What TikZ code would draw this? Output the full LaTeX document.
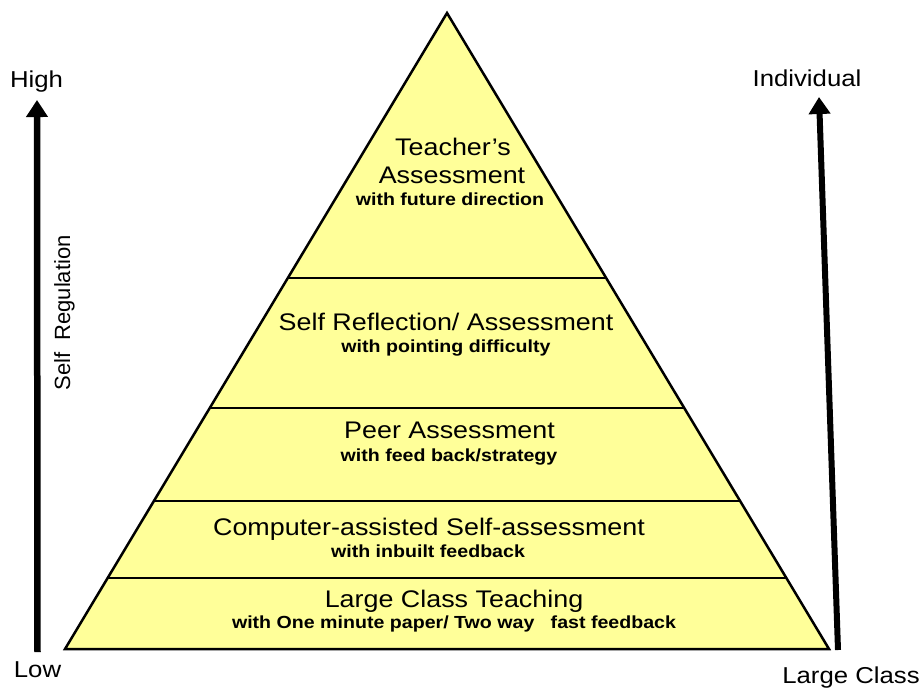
\documentclass[tikz,border=0pt]{standalone}
\usepackage{fontspec}
\setmainfont{Liberation Sans}[FakeStretch=1.12]
\newfontfamily\uprightfont{Liberation Sans}
\usepackage{xcolor}
\usetikzlibrary{arrows.meta,calc}
\definecolor{pyrfill}{RGB}{255,255,153}

\begin{document}
\begin{tikzpicture}[x=1pt,y=-1pt,
  pyramid/.style={draw=black,line width=2.5pt,fill=pyrfill,line join=miter},
  divider/.style={draw=black,line width=2.5pt},
  title/.style={font=\fontsize{24}{28}\selectfont,anchor=base,inner sep=0pt},
  sub/.style={font=\bfseries\fontsize{17.5}{20}\selectfont,anchor=base,inner sep=0pt},
  axis/.style={font=\fontsize{23}{26}\selectfont,anchor=base,inner sep=0pt},
  axisarrow/.style={-{Triangle[width=21pt,length=17pt]},line width=6.5pt}]
  \useasboundingbox (0,0) rectangle (923,689);

  % pyramid
  \coordinate (A)  at (447,13);
  \coordinate (BL) at (65,649);
  \coordinate (BR) at (829,649);
  \path[pyramid] (A) -- (BL) -- (BR) -- cycle;
  \foreach \t in {0.4167,0.6211,0.7673,0.8884}
    \draw[divider] ($(A)!\t!(BL)$) -- ($(A)!\t!(BR)$);

  % levels
  \node[title] (teach1) at (453,155) {Teacher's};
  \node[title] (teach2) at (452,183) {Assessment};
  \node[sub]   (teach3) at (450,205) {with future direction};
  \node[title] (refl1)  at (446,330) {Self Reflection/ Assessment};
  \node[sub]   (refl2)  at (446,352) {with pointing difficulty};
  \node[title] (peer1)  at (449.5,438) {Peer Assessment};
  \node[sub]   (peer2)  at (449,461) {with feed back/strategy};
  \node[title] (comp1)  at (429,535) {Computer-assisted Self-assessment};
  \node[sub]   (comp2)  at (428,557) {with inbuilt feedback};
  \node[title] (large1) at (454,607) {Large Class Teaching};
  \node[sub]   (large2) at (454,628) {with One minute paper/ Two way~~~fast feedback};

  % axes
  \coordinate (srbot)  at (37.5,652);
  \coordinate (srtop)  at (37,100);
  \coordinate (indbot) at (838,650);
  \coordinate (indtop) at (819,97);
  \draw[axisarrow] (srbot) -- (srtop);
  \draw[axisarrow,line width=6pt] (indbot) -- (indtop);

  \node[axis] (high)  at (36.5,87) {High};
  \node[axis] (low)   at (37.5,677) {Low};
  \node[axis] (indiv) at (807,86) {Individual};
  \node[axis] (large) at (851,683.5) {Large Class};
  \node[font=\uprightfont\fontsize{22}{26}\selectfont,rotate=90,anchor=base,inner sep=0pt]
    (selfreg) at (70,313) {Self~~Regulation};
\end{tikzpicture}
\end{document}
